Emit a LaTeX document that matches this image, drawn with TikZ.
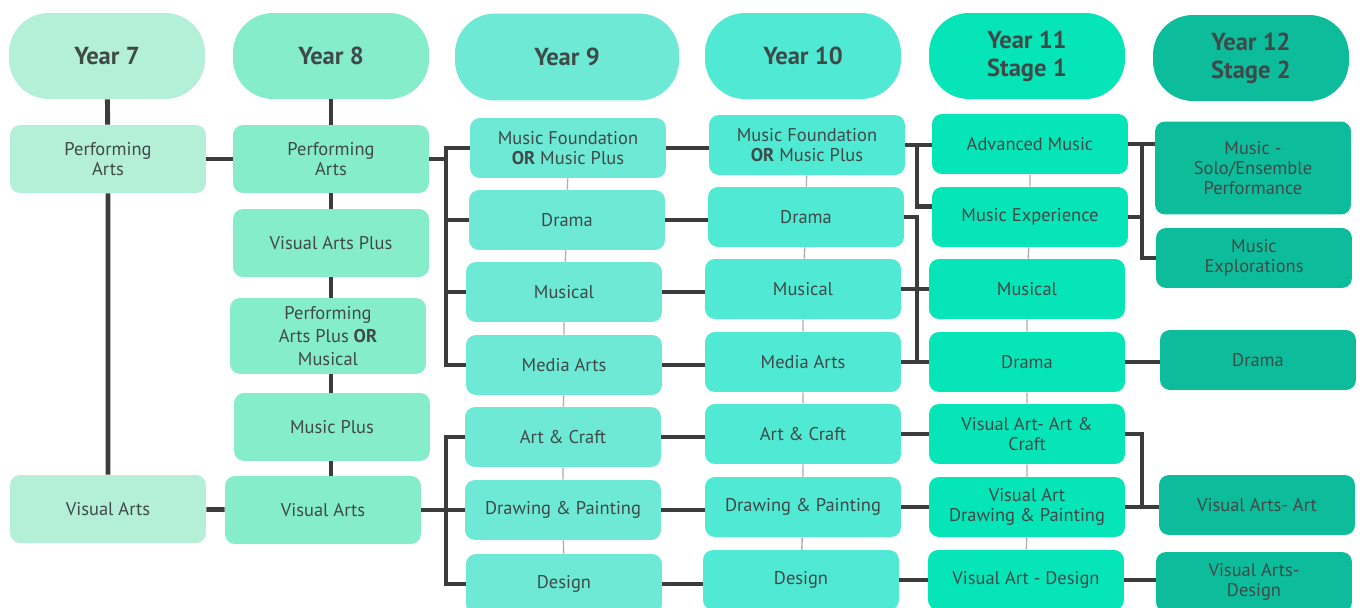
\documentclass[tikz,border=0pt]{standalone}
\usepackage{fontspec}
\setmainfont{PT Sans}
\usepackage{xcolor}
\usepackage{tikz}
\usetikzlibrary{positioning,backgrounds}
\definecolor{ink}{HTML}{3F4A48}
\definecolor{wire}{HTML}{3C3C3C}
\definecolor{c7}{HTML}{B4EFD7}
\definecolor{c8}{HTML}{86EDCB}
\definecolor{c9}{HTML}{6DE9D5}
\definecolor{c10}{HTML}{50E9D4}
\definecolor{c11}{HTML}{06E5B8}
\definecolor{c12}{HTML}{0DBC9B}
\tikzset{
  head/.style={rounded corners=0.8cm,minimum width=3.92cm,minimum height=1.72cm,inner sep=0pt,
    align=center,text=ink,font=\fontsize{14}{16}\selectfont\bfseries},
  course/.style={rounded corners=0.2cm,minimum width=3.92cm,minimum height=1.2cm,inner sep=0pt,
    align=center,text=ink,font=\fontsize{10.5}{11.5}\selectfont},
  tall/.style={minimum height=1.36cm},
  link/.style={draw=wire,line width=2.8pt},
  spine/.style={draw=gray!65,line width=0.8pt}
}

\begin{document}
\begin{tikzpicture}[x=0.02cm,y=-0.02cm]
\useasboundingbox (0,0) rectangle (1363,608);
% year headers
\node[head,fill=c7] (h7) at (107,56) {Year 7};
\node[head,fill=c8] (h8) at (331,56) {Year 8};
\node[head,fill=c9,minimum width=4.48cm,minimum height=1.74cm] (h9) at (567,57) {Year 9};
\node[head,fill=c10] (h10) at (803,56) {Year 10};
\node[head,fill=c11] (h11) at (1027,56) {Year 11\\Stage 1};
\node[head,fill=c12] (h12) at (1251,58) {Year 12\\Stage 2};
% year 7
\node[course,tall,fill=c7] (s7pa) at (108,159) {Performing\\Arts};
\node[course,tall,fill=c7] (s7va) at (108,509) {Visual Arts};
% year 8
\node[course,tall,fill=c8] (s8pa) at (331,159) {Performing\\Arts};
\node[course,tall,fill=c8] (s8vp) at (331,243) {Visual Arts Plus};
\node[course,fill=c8,minimum height=1.52cm,font=\fontsize{10.5}{13}\selectfont] (s8pm) at (328,336)
  {Performing\\Arts Plus \textbf{OR}\\Musical};
\node[course,tall,fill=c8] (s8mp) at (332,427) {Music Plus};
\node[course,tall,fill=c8] (s8va) at (323,510) {Visual Arts};
% year 9
\node[course,fill=c9] (s9mf) at (568,148) {Music Foundation\\\textbf{OR} Music Plus};
\node[course,fill=c9] (s9dr) at (567,220) {Drama};
\node[course,fill=c9] (s9mu) at (564,292) {Musical};
\node[course,fill=c9] (s9ma) at (564,365) {Media Arts};
\node[course,fill=c9] (s9ac) at (563,437) {Art \& Craft};
\node[course,fill=c9] (s9dp) at (563,510) {Drawing \& Painting};
\node[course,fill=c9] (s9de) at (564,584) {Design};
% year 10
\node[course,fill=c10] (s10mf) at (807,145) {Music Foundation\\\textbf{OR} Music Plus};
\node[course,fill=c10] (s10dr) at (806,217) {Drama};
\node[course,fill=c10] (s10mu) at (803,289) {Musical};
\node[course,fill=c10] (s10ma) at (803,362) {Media Arts};
\node[course,fill=c10] (s10ac) at (803,434) {Art \& Craft};
\node[course,fill=c10] (s10dp) at (803,507) {Drawing \& Painting};
\node[course,fill=c10] (s10de) at (801,580) {Design};
% year 11
\node[course,fill=c11] (s11am) at (1030,144) {Advanced Music};
\node[course,fill=c11] (s11me) at (1030,217) {Music Experience};
\node[course,fill=c11] (s11mu) at (1027,289) {Musical};
\node[course,fill=c11] (s11dr) at (1027,362) {Drama};
\node[course,fill=c11] (s11ac) at (1027,434) {Visual Art- Art \&\\Craft};
\node[course,fill=c11] (s11dp) at (1027,507) {Visual Art\\Drawing \& Painting};
\node[course,fill=c11] (s11de) at (1026,580) {Visual Art - Design};
% year 12
\node[course,fill=c12,minimum height=1.86cm] (s12so) at (1253,168) {Music -\\Solo/Ensemble\\Performance};
\node[course,fill=c12] (s12ex) at (1254,258) {Music\\Explorations};
\node[course,fill=c12] (s12dr) at (1258,360) {Drama};
\node[course,fill=c12] (s12va) at (1257,505) {Visual Arts- Art};
\node[course,fill=c12] (s12vd) at (1254,582) {Visual Arts-\\Design};

% bracket columns
\coordinate (k8) at (331,0);
\coordinate (k9) at (446,0);
\coordinate (k11) at (917,0);
\coordinate (k12) at (1142,0);

\begin{scope}[on background layer]
% columns 7 and 8
\draw[link] (h7) -- (s7pa) -- (s7va);
\draw[link] (k8 |- h8.south) -- (k8 |- s8va.north);
\draw[link] (s7pa) -- (s8pa);
\draw[link] (s7va) -- (s8va);
% year 8 to year 9
\draw[link] (s8pa.east) -- (k9 |- s8pa.east);
\draw[link] (s9mf.west) -- (k9 |- s9mf.west) -- (k9 |- s9ma.west) -- (s9ma.west);
\draw[link] (k9 |- s9dr.west) -- (s9dr.west);
\draw[link] (k9 |- s9mu.west) -- (s9mu.west);
\draw[link] (s8va.east) -- (k9 |- s8va.east);
\draw[link] (s9ac.west) -- (k9 |- s9ac.west) -- (k9 |- s9de.west) -- (s9de.west);
\draw[link] (k9 |- s9dp.west) -- (s9dp.west);
% year 9 to year 10
\foreach \a/\b in {s9mf/s10mf,s9dr/s10dr,s9mu/s10mu,s9ma/s10ma,s9ac/s10ac,s9dp/s10dp,s9de/s10de}
  \draw[link] (\a.east) -- (\a.east -| \b.west);
% year 10 to year 11
\draw[link] (s10mf.east) -- (s10mf.east -| s11am.west);
\draw[link] (k11 |- s11am.west) -- (k11 |- s11me.174) -- (s11me.174);
\draw[link] (s10dr.east) -- (k11 |- s10dr.east) -- (k11 |- s11dr.west);
\draw[link] (s10mu.east) -- (s11mu.west);
\draw[link] (s10ma.east) -- (s11dr.west);
\foreach \a/\b in {s10ac/s11ac,s10dp/s11dp,s10de/s11de}
  \draw[link] (\a.east) -- (\a.east -| \b.west);
% year 11 to year 12
\draw[link] (s11am.east) -- (s11am.east -| s12so.west);
\draw[link] (k12 |- s11am.east) -- (k12 |- s12ex.west) -- (s12ex.west);
\draw[link] (s11me.east) -- (k12 |- s11me.east);
\draw[link] (s11dr.east) -- (s11dr.east -| s12dr.west);
\draw[link] (s11ac.east) -- (k12 |- s11ac.east) -- (k12 |- s12va.west);
\draw[link] (s11dp.east) -- (s11dp.east -| s12va.west);
\draw[link] (s11de.east) -- (s11de.east -| s12vd.west);
% thin spines through years 9 to 11
\draw[spine] (s9mf) -- (s9dr) -- (s9mu) -- (s9ma) -- (s9ac) -- (s9dp) -- (s9de);
\draw[spine] (s10mf) -- (s10dr) -- (s10mu) -- (s10ma) -- (s10ac) -- (s10dp) -- (s10de);
\draw[spine] (s11am) -- (s11me) -- (s11mu) -- (s11dr) -- (s11ac) -- (s11dp) -- (s11de);
\end{scope}
\end{tikzpicture}
\end{document}
